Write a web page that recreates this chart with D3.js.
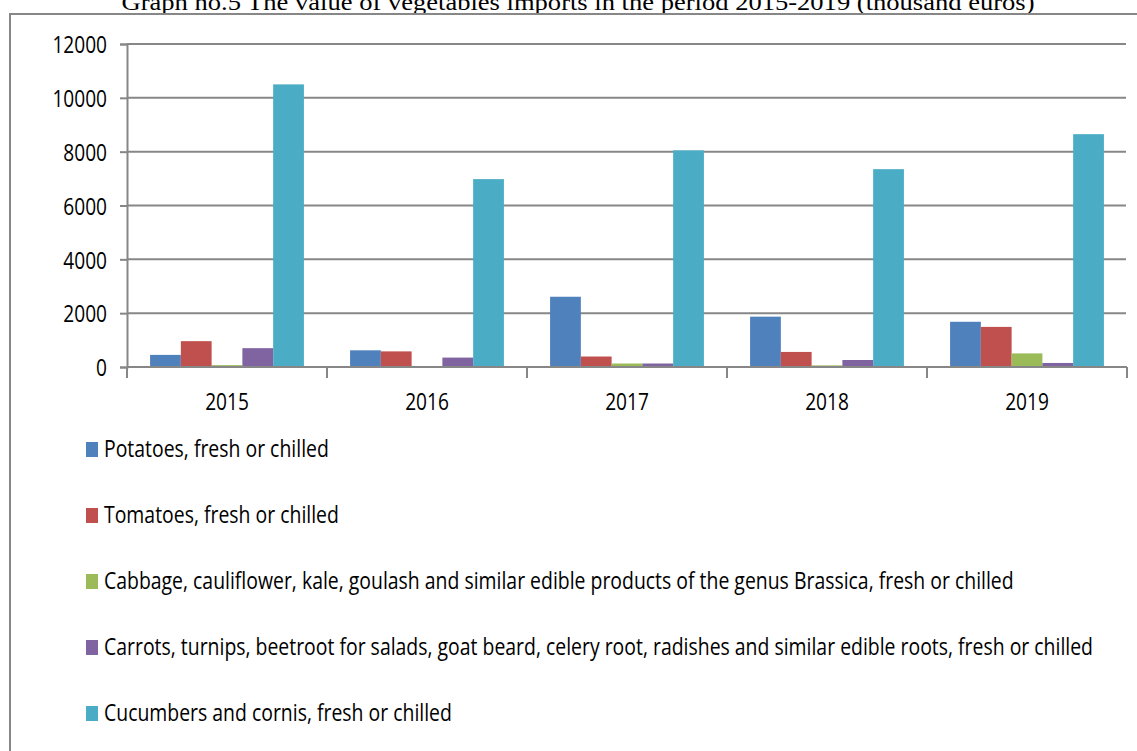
<!DOCTYPE html>
<html>
<head>
<meta charset="utf-8">
<script src="https://cdn.jsdelivr.net/npm/d3@7"></script>
<style>
  body { margin: 0; background: #fff; }
  svg { display: block; }
</style>
</head>
<body>
<div id="chart-area"></div>
<script>
// Data (thousand euros)
const years = ["2015", "2016", "2017", "2018", "2019"];
const seriesNames = [
    "Potatoes, fresh or chilled",
    "Tomatoes, fresh or chilled",
    "Cabbage, cauliflower, kale, goulash and similar edible products of the genus Brassica, fresh or chilled",
    "Carrots, turnips, beetroot for salads, goat beard, celery root, radishes and similar edible roots, fresh or chilled",
    "Cucumbers and cornis, fresh or chilled"
];
const potatoes = [450, 620, 2610, 1870, 1680];
const tomatoes = [960, 580, 390, 560, 1490];
const cabbage = [70, 0, 130, 60, 505];
const carrots = [700, 350, 130, 260, 150];
const cucumbers = [10500, 6980, 8050, 7350, 8650];
const yTicks = [0, 2000, 4000, 6000, 8000, 10000, 12000];
const colors = ["#4F81BD", "#C0504D", "#9BBB59", "#8064A2", "#4BACC6"];

const seriesValues = [potatoes, tomatoes, cabbage, carrots, cucumbers];

// Chart dimensions
const width = 1137;
const height = 751;
const plot = { left: 127, right: 1127, top: 44, bottom: 367 };
const gray = "#878787";
const textFont = "'Open Sans', 'DejaVu Sans', sans-serif";

const svg = d3.select("#chart-area")
    .append("svg")
    .attr("width", width)
    .attr("height", height);

// squeeze text horizontally, the original font is narrower (Calibri-like)
function condense(sel, k) {
    sel.each(function() {
        const w = this.getComputedTextLength();
        d3.select(this)
            .attr("textLength", w * k)
            .attr("lengthAdjust", "spacingAndGlyphs");
    });
}

// Title (partly cut off at the top, as in the reference)
svg.append("text")
    .attr("x", 578)
    .attr("y", 10)
    .attr("text-anchor", "middle")
    .style("font-family", "'Liberation Serif', 'Times New Roman', serif")
    .style("font-size", "23px")
    .attr("fill", "#000")
    .text("Graph no.5 The value of vegetables imports in the period 2015-2019 (thousand euros)")
    .call(sel => sel.each(function() {
        d3.select(this).attr("textLength", 913).attr("lengthAdjust", "spacingAndGlyphs");
    }));

// Outer frame of the chart area
svg.append("rect")
    .attr("x", 10)
    .attr("y", 14)
    .attr("width", width + 20)
    .attr("height", height + 20)
    .attr("fill", "none")
    .attr("stroke", gray)
    .attr("stroke-width", 2);

// Scales
const x0 = d3.scaleBand()
    .domain(years)
    .range([plot.left, plot.right])
    .padding(0);

const x1 = d3.scaleBand()
    .domain(d3.range(seriesNames.length))
    .range([0, x0.bandwidth()])
    .paddingInner(0)
    .paddingOuter(0.75);

const y = d3.scaleLinear()
    .domain([0, 12000])
    .range([plot.bottom, plot.top]);

// Horizontal gridlines
svg.selectAll(".grid")
    .data(yTicks)
    .enter()
    .append("line")
    .attr("class", "grid")
    .attr("x1", plot.left)
    .attr("x2", plot.right - 1)
    .attr("y1", d => y(d))
    .attr("y2", d => y(d))
    .attr("stroke", gray)
    .attr("stroke-width", 2);

// Y axis
const yAxis = svg.append("g")
    .attr("transform", `translate(${plot.left},0)`)
    .call(d3.axisLeft(y).tickValues(yTicks).tickSize(7).tickPadding(13).tickFormat(d3.format("d")));

yAxis.select(".domain").attr("stroke", gray).attr("stroke-width", 2);
yAxis.selectAll(".tick line").attr("stroke", gray).attr("stroke-width", 2);
yAxis.selectAll(".tick text")
    .attr("fill", "#000")
    .attr("dy", "0.38em")
    .style("font-family", textFont)
    .style("font-size", "23px")
    .call(condense, 0.83);

// Bars
const groups = svg.selectAll(".year")
    .data(years)
    .enter()
    .append("g")
    .attr("class", "year")
    .attr("transform", d => `translate(${x0(d)},0)`);

groups.selectAll("rect")
    .data((d, i) => seriesValues.map((vals, s) => ({ s: s, v: vals[i] })))
    .enter()
    .append("rect")
    .attr("x", d => x1(d.s))
    .attr("y", d => y(d.v))
    .attr("width", x1.bandwidth())
    .attr("height", d => y(0) - y(d.v))
    .attr("fill", d => colors[d.s]);

// X axis with ticks between categories
const xAxisG = svg.append("g");
xAxisG.append("line")
    .attr("x1", plot.left)
    .attr("x2", plot.right)
    .attr("y1", y(0))
    .attr("y2", y(0))
    .attr("stroke", gray)
    .attr("stroke-width", 2);

const boundaries = years.map(d => x0(d)).concat([x0(years[years.length - 1]) + x0.bandwidth()]);
xAxisG.selectAll(".xtick")
    .data(boundaries)
    .enter()
    .append("line")
    .attr("class", "xtick")
    .attr("x1", d => d)
    .attr("x2", d => d)
    .attr("y1", y(0))
    .attr("y2", y(0) + 11)
    .attr("stroke", gray)
    .attr("stroke-width", 2);

xAxisG.selectAll(".xlabel")
    .data(years)
    .enter()
    .append("text")
    .attr("class", "xlabel")
    .attr("x", d => x0(d) + x0.bandwidth() / 2)
    .attr("y", y(0) + 43)
    .attr("text-anchor", "middle")
    .style("font-family", textFont)
    .style("font-size", "23px")
    .attr("fill", "#000")
    .text(d => d)
    .call(condense, 0.83);

// Legend below the plot
const legendTop = 457;
const legendStep = 66;
const legend = svg.selectAll(".legend")
    .data(seriesNames)
    .enter()
    .append("g")
    .attr("class", "legend")
    .attr("transform", (d, i) => `translate(86,${legendTop + i * legendStep})`);

legend.append("rect")
    .attr("x", 0)
    .attr("y", -15)
    .attr("width", 12)
    .attr("height", 15)
    .attr("fill", (d, i) => colors[i]);

const legendText = legend.append("text")
    .attr("x", 18)
    .attr("y", 0)
    .style("font-family", textFont)
    .style("font-size", "23px")
    .attr("fill", "#000")
    .text(d => d);

// fit the longest label to the width seen in the reference
const longest = legendText.filter((d, i) => i === 3).node().getComputedTextLength();
const k = 989 / longest;
legendText.call(condense, k);
</script>
</body>
</html>
